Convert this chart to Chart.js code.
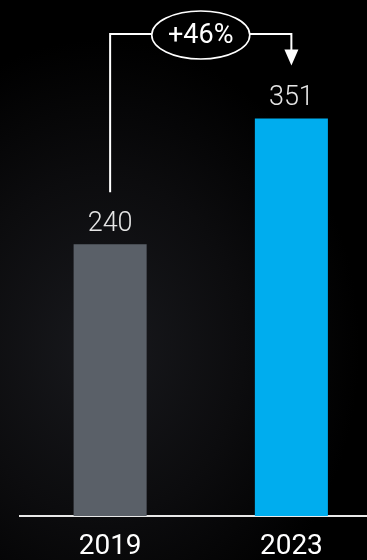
<!DOCTYPE html>
<html>
<head>
<meta charset="utf-8">
<script src="https://cdn.jsdelivr.net/npm/chart.js@4.4.1/dist/chart.umd.min.js"></script>
<style>
    html, body {
        margin: 0;
        padding: 0;
        width: 367px;
        height: 560px;
        overflow: hidden;
        background: radial-gradient(ellipse 70% 55% at 28% 62%, #18191d 0%, #0c0c0e 55%, #000 100%);
    }
    #chart {
        display: block;
    }
</style>
</head>
<body>
<canvas id="chart" width="382" height="560"></canvas>
<script>
// Revenue comparison between two years
const years = ['2019', '2023'];
const values = [240, 351];

const FONT = 'Roboto, "DejaVu Sans", sans-serif';

// Growth bracket: line up from the first bar, oval with the change, arrow down to the second
const growthBracket = {
    id: 'growthBracket',
    afterDatasetsDraw(chart) {
        const ctx = chart.ctx;
        const bars = chart.getDatasetMeta(0).data;
        const a = bars[0], b = bars[1];
        const change = Math.round((values[1] / values[0] - 1) * 100);
        const label = (change >= 0 ? '+' : '') + change + '%';

        const lineY = 34;
        const cx = (a.x + b.x) / 2;
        const cy = 35;
        const rx = 49, ry = 24;

        ctx.save();
        ctx.strokeStyle = '#ffffff';
        ctx.fillStyle = '#ffffff';
        ctx.lineWidth = 2;

        // left leg and horizontal run into the oval
        ctx.beginPath();
        ctx.moveTo(a.x, a.y - 52);
        ctx.lineTo(a.x, lineY);
        ctx.lineTo(cx - rx, lineY);
        ctx.stroke();

        // right run and drop towards the second bar
        const tipY = b.y - 53;
        ctx.beginPath();
        ctx.moveTo(cx + rx, lineY);
        ctx.lineTo(b.x, lineY);
        ctx.lineTo(b.x, tipY - 14);
        ctx.stroke();

        ctx.beginPath();
        ctx.moveTo(b.x - 7, tipY - 16);
        ctx.lineTo(b.x + 7, tipY - 16);
        ctx.lineTo(b.x, tipY);
        ctx.closePath();
        ctx.fill();

        // oval with the percentage
        ctx.beginPath();
        ctx.ellipse(cx, cy, rx, ry, 0, 0, Math.PI * 2);
        ctx.fillStyle = '#000000';
        ctx.fill();
        ctx.lineWidth = 1.6;
        ctx.stroke();

        ctx.fillStyle = '#ffffff';
        ctx.font = '400 27px ' + FONT;
        ctx.textAlign = 'center';
        ctx.textBaseline = 'middle';
        ctx.fillText(label, cx, cy + 1);
        ctx.restore();
    }
};

// Value labels above each bar
const valueLabels = {
    id: 'valueLabels',
    afterDatasetsDraw(chart) {
        const ctx = chart.ctx;
        const bars = chart.getDatasetMeta(0).data;
        ctx.save();
        ctx.fillStyle = '#e6e6e6';
        ctx.font = '300 27px ' + FONT;
        ctx.textAlign = 'center';
        ctx.textBaseline = 'alphabetic';
        bars.forEach((bar, i) => {
            ctx.fillText(String(values[i]), bar.x, bar.y - 13);
        });
        ctx.restore();
    }
};

new Chart(document.getElementById('chart'), {
    type: 'bar',
    data: {
        labels: years,
        datasets: [{
            data: values,
            backgroundColor: ['#5a6068', '#00adee'],
            borderWidth: 0,
            categoryPercentage: 1,
            barPercentage: 0.403
        }]
    },
    options: {
        responsive: false,
        animation: false,
        devicePixelRatio: 1,
        layout: {
            padding: { left: 19.5, right: 0, top: 63, bottom: 0 }
        },
        plugins: {
            legend: { display: false },
            tooltip: { enabled: false }
        },
        scales: {
            x: {
                grid: { display: false, drawTicks: false },
                border: { display: true, color: '#e8e8e8', width: 2 },
                ticks: {
                    color: '#ffffff',
                    padding: 14,
                    font: { family: FONT, size: 28, weight: '400' }
                },
                afterFit(scale) {
                    scale.height = 44;
                }
            },
            y: {
                display: false,
                min: 0,
                max: 400
            }
        }
    },
    plugins: [valueLabels, growthBracket]
});
</script>
</body>
</html>
